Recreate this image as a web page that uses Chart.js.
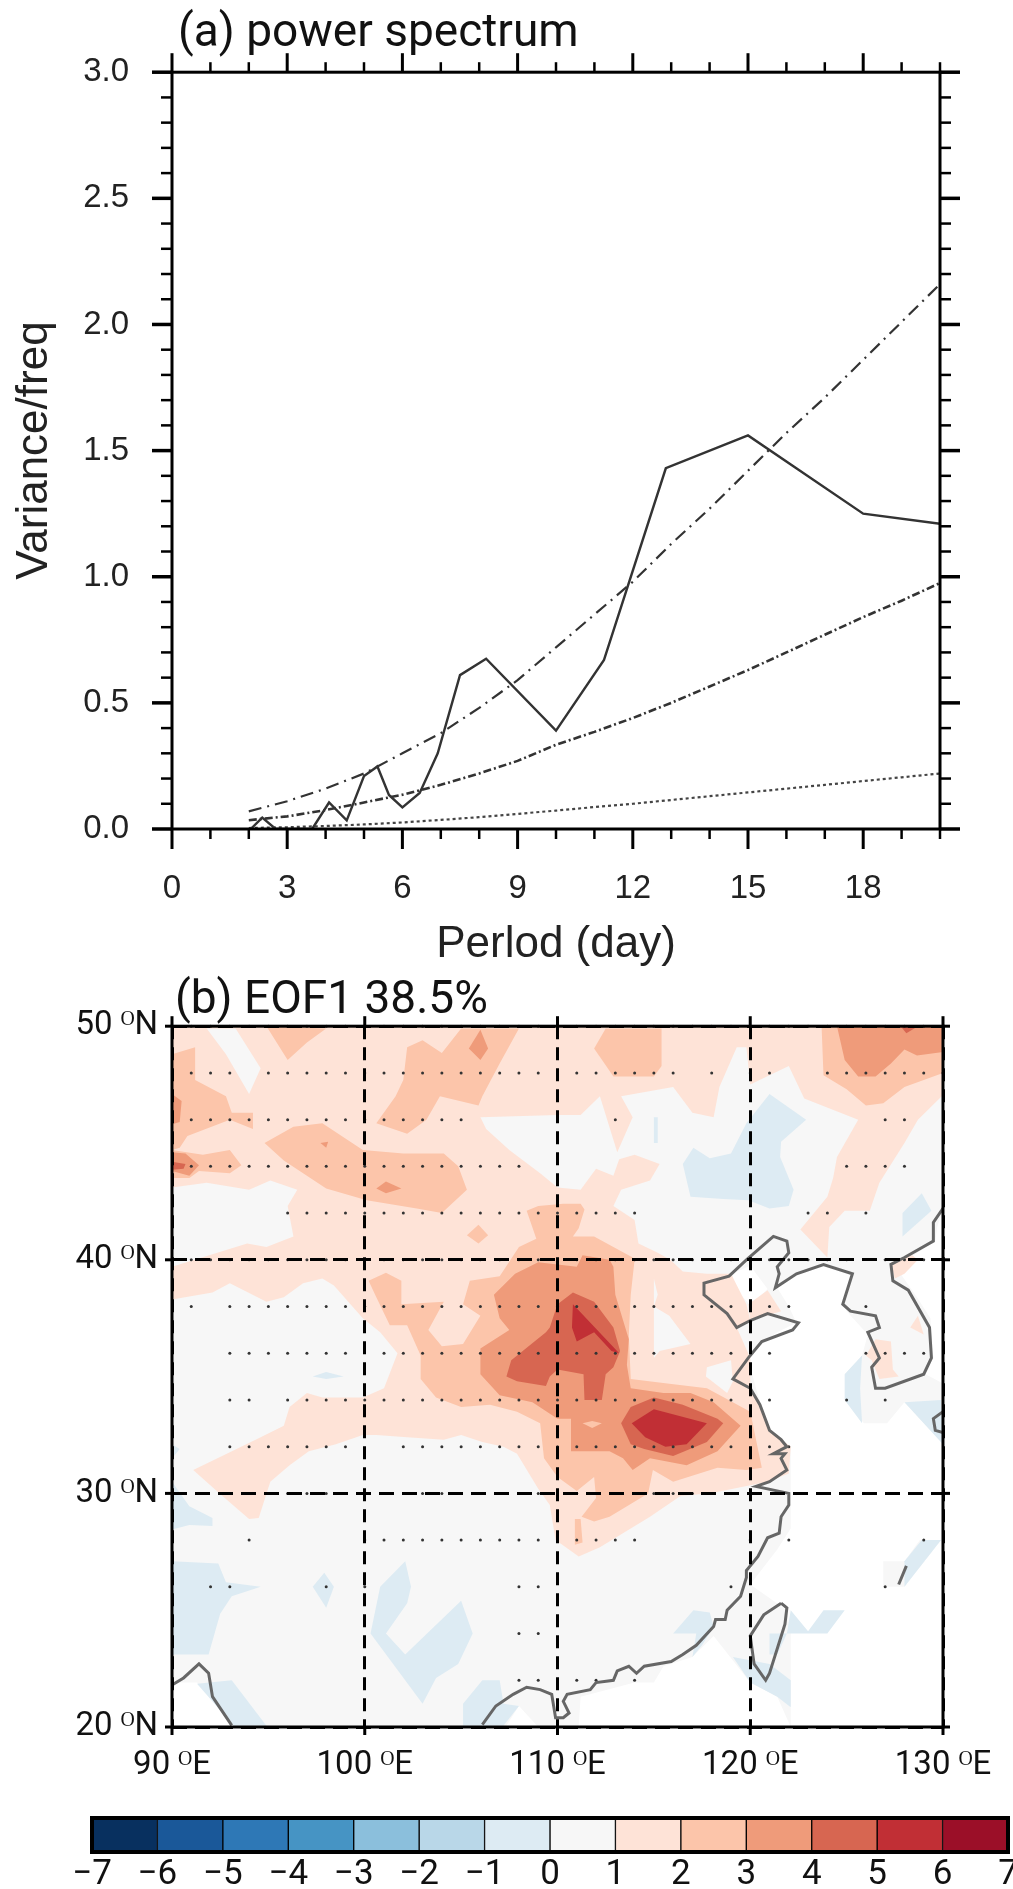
<!DOCTYPE html>
<html><head><meta charset="utf-8">
<script src="https://cdn.jsdelivr.net/npm/chart.js@4/dist/chart.umd.js"></script>
<style>
html,body{margin:0;padding:0;background:#fff;width:1013px;height:1889px;overflow:hidden}
canvas{position:absolute;left:0;display:block;filter:blur(0.5px)}
#a{top:0}#b{top:960px}#c{top:1790px}
</style></head><body>
<canvas id="a" width="1013" height="980"></canvas>
<canvas id="b" width="1013" height="830"></canvas>
<canvas id="c" width="1013" height="99"></canvas>
<script>
// ---------- panel (a) ----------
const periodDays   = [2.05,2.35,2.7,3.65,4.09,4.55,5.0,5.35,5.65,6.0,6.45,6.92,7.5,8.18,10,11.25,12.86,15,18,20];
const spectrum     = [0,.045,0,0,.105,.034,.21,.248,.135,.086,.143,.30,.61,.675,.39,.67,1.43,1.56,1.25,1.21];
const noiseDays    = [2,3,4,5,6,7,8,9,10,11,12,13,14,15,16,17,18,19,20];
const noiseUpper   = [.07,.11,.16,.22,.30,.38,.48,.59,.72,.85,.98,1.13,1.27,1.42,1.57,1.71,1.86,2.01,2.16];
const noiseMiddle  = [.035,.05,.075,.105,.136,.175,.22,.27,.334,.385,.44,.50,.565,.63,.70,.77,.84,.905,.975];
const noiseLower   = [.004,.007,.012,.018,.026,.036,.047,.06,.073,.087,.10,.115,.13,.145,.16,.175,.19,.205,.22];
// ---------- panel (b) : contour regions, lon/lat pairs ----------
const levels = [-7,-6,-5,-4,-3,-2,-1,0,1,2,3,4,5,6,7];
const levelColors = ['#08305f','#1a5899','#2e78b6','#4694c4','#8bbfdc','#b9d7e8','#ddebf3','#f7f7f7','#fee3d7','#fcc5aa','#ef9b7a','#d76651','#c12f35','#9b0f28'];
const dataRegion = [[90,50,130,50,130,42.2,129.7,41.4,129.6,40.8,128.2,40.05,127.8,39.4,128.65,38.4,129.35,37.5,129.5,35.8,129.1,35.1,130,34.7,130,32.1,128,33.9,127.1,33,125.9,33,124.9,34,124.9,35.1,125.8,35.9,126.1,36.8,125,37.8,124.8,38.1,125.3,39.4,124,39.8,122.4,39.4,121.4,38.8,122,38,122.4,37.3,121.4,36.9,120.7,36.5,120,35.8,120.1,35.1,120.4,34.2,121,32.7,122.1,32,122.1,28.5,121.4,27.6,120,26.1,121.9,25,122.1,24,122.1,20,121.4,21.3,120,21.9,118.1,23.9,117,23,115.5,22.6,115,21.9,114,21.9,111.2,21.3,111.1,20,93.2,20,91.3,21.9,90,21.9],
 [126.9,26,128,26,129.9,28,128.8,28,128,27.1,126.9,27.1]];
const noData = [[119.05,39.4,120,39.75,120.9,38.75,120,38.05,119.3,38.7],[108,20.9,107.3,20,109,20]];
const bandM1to0 = [
 [115,46.1,115.2,46.1,115.2,45,115,45],
 [121,47.1,122.9,46,121.6,45.05,121.55,44.4,122.25,43,122,42.3,121,42.2,119.9,42.55,118.6,42.6,116.9,42.7,116.5,44.1,117.05,44.8,117.9,44.35,119,44.55,119.8,45.85],
 [128.9,42.85,129.4,42.1,127.9,41,127.9,42],
 [97.3,35,98,35.2,98.9,35,98,34.9],
 [90,32.1,90.4,31.9,90.1,31.6],
 [90,30.5,90.9,29.45,92.1,28.95,92.1,28.6,90.9,28.65,90,28.45],
 [90,27.1,92.4,27,92.8,26.2,94.6,26,93.1,25.6,92.5,24.85,91.9,23.1,90,23.1],
 [97.9,26.6,98.4,26,98,25.1,97.3,26],
 [102.1,27.1,102.4,26,102.2,25.3,101.1,24,102.1,23.1,105,25.4,105.6,24,104.85,22.7,103.7,22.1,103,21,100.3,24,100.8,26],
 [91.3,21.85,93.1,22,94.9,20.05,93.2,20.05],
 [106.1,22,107,22,107.2,21,108,20.9,107.2,20.05,105.1,20.05,105.1,21],
 [117.05,25,117.9,24.9,118.1,24.3,117.5,23.5,117,23,117.2,24,116,24],
 [122.1,25,123,24.1,123.8,25,124.9,25,124,24,121.9,24],
 [119.1,23,121,22.7,122.1,22,122.1,20.85,121.4,21.3,120,21.9],
 [121,24,121.9,24,121.4,23.1,121,23.1],
 [125.8,35.9,125.7,34.5,125.8,33,124.9,34,124.9,35.1],
 [128,33.9,129.9,34,130,32.1],
 [128,27.1,128.9,28,129.9,28,128,26]
];
const band1to2 = [
 [90,50,130,50,130,47.05,128.7,46,128,45,126.7,43.3,126.2,42.1,124.9,42.1,124.1,41.4,124,40.1,122.6,41.3,124,42.7,124.3,43.5,124.5,44.4,125.6,46,122.8,46.9,122,48.3,120,47.5,119.8,49.1,119.3,49.1,118.4,47.4,118.1,46.1,117,46.3,116,47.4,113.3,47,113.9,46.1,113.1,44.6,112.2,47,111.2,46.2,110,46.2,106,46.1,106.3,45.6,107.5,44.7,109.1,43.7,110,43.1,111.2,43,112,43.9,112.9,43.6,113.2,44.3,114,44.5,115.3,44.1,114.8,43.4,113.3,43,112.9,42.3,114,41.7,114.2,40.7,115.2,40.3,115.85,40,116.5,39.5,117.75,39.4,119,39.4,119.8,38.1,120,37.4,119.3,37.1,120,35.8,120,34.5,120.5,33.8,121,32.7,122.1,32,122,30.85,120.9,30.5,117.9,30,116.4,29.9,114.8,29,112.2,27.7,111.1,27.3,109.9,28,109.6,29.5,109,30.2,107.9,31.7,107.2,32,106.1,32.2,105,32.5,104.1,32.3,102.2,32.4,100.6,32.5,99.9,32.5,98.5,32.1,97.1,31.8,96.1,31.2,95.1,30.5,94.5,28.95,94,28.9,92.6,29.9,91.1,31,92.6,31.6,94.6,32.4,95.8,32.9,96.1,33.7,97,34.3,97.8,34.1,99.9,34.1,101,34.5,101.7,36,100.8,36.9,99.9,37.5,98.4,38.9,97.8,39.2,96.8,39,95.8,38.4,94.9,38.2,93,39,92.1,38.6,90,38.3,90,39.7,93.9,40.7,94.9,40.55,96.3,41,96,42.3,96.5,43,95.1,43.4,94,43,91.8,43.3,90,43.1],
 [119.9,38.1,120.9,38.7,121.6,37.8,120,37.4],
 [127.3,39.9,127.5,39.2,128,39.4,128.7,40,128.4,40.2],
 [128.3,37.1,128.7,37.6,129,36.8],
 [126.5,36.6,127.3,36.5,127.4,35.3,127.7,35,126.7,34.9,126.3,35.7,126,35.9]
];
const band0to1Holes = [
 [91.8,49.9,93.3,49.9,94.6,48.2,94,47.1,92.8,48.8],
 [115,39.2,115.2,38.5,115,38,115.8,37.6,116.9,36.4,115.3,36.1,115,35.8],
 [117.75,35.4,119,35.7,119.1,34.8,118.8,34.3,117.7,35]
];
const band2to3 = [
 [90,48.8,91.2,49.1,91.2,47.7,92.8,47,93.1,46.3,94.2,46.3,94.2,45.6,93,46,90.8,45.3,90.4,44.8,90,44.7],
 [90,44.7,91.6,44.5,93,44.7,93.6,44.05,93,43.7,91.4,43.8,90.9,43.5,90,43.5],
 [94.9,50,98,49.9,97,49.3,96,48.55],
 [94.8,45,96.3,45.7,97.8,45.85,99.9,44.7,102,44.55,104.1,44.55,104.85,44,105.3,43,104,42,102.7,42.2,100.1,42.55,98,43.05,95.8,44.25],
 [102.2,49.1,103,49.4,104,48.85,105,49.9,108,49.9,107,48.4,106.1,47,105.9,46.6,103.9,47,103.2,46,102.2,45.4,100.6,45.85,101.6,47,102,47.7],
 [112.5,49.9,115.4,49.9,115.4,48.3,115,47.85,112.9,47.85,111.9,49.05],
 [123.7,50,130,50,130,48,128,47.4,126.9,46.7,126,46.6,125,47.3,123.8,47.9],
 [108,40.55,108.9,40.9,108.4,42.1,109,42.3,110.3,42.4,111.2,42.4,111.4,42.15,111.1,41.35,110.8,41,111.9,41,113.9,40.1,114,40,113.8,38.5,113.7,36.8,113.8,34.9,115.7,34.7,117.75,34.5,119,33.95,120,33.5,120.6,31.1,119.8,31,118.3,31.1,116,30.5,114.95,31,114.7,30,112.7,29,111.9,28.8,111.25,29,112,29.8,111.9,30.7,111,30.1,110,30.7,109.3,31.5,109.1,33,107.9,33.5,106.5,33.8,105,33.7,103.7,34.1,102.9,34.9,102.9,35.9,102.2,37.2,101.3,37.2,100.6,38.4,100.2,39.1,101.1,39.45,101.9,39.1,101.9,38.1,104.1,38.2,103.3,37,104,36.3,105.1,36.4,106,37.6,105.1,38.1,105.45,39.1,107,39.3],
 [105.9,41.5,106.4,41.05,105.9,40.7,105.3,41.05],
 [110.9,28.9,111.2,28.9,111.3,27.9,110.9,27.8]
];
const band3to4 = [
 [90,47.1,90.5,46.8,90.4,45.9,90,45.8],
 [90,44.6,90.7,44.55,91.4,44.05,90.9,43.6,90,43.8],
 [97.7,45,98.1,45.05,98,44.8],
 [100.6,43.05,101.1,43.35,101.9,43.05,101.1,42.85],
 [106,49.85,106.4,49.05,106,48.55,105.4,49.05],
 [124.5,50,130,50,130,48.9,128.65,48.75,128,49,127.3,48.4,126.5,47.85,125.6,47.85,124.9,48.55],
 [107.8,39.4,109,39.9,110,39.8,111,39.7,111.3,40.2,112.7,40,112.9,39.7,113,38.5,113.7,36.6,113.6,35.5,113.8,34.5,115.5,34.3,116.9,34.3,118.1,33.9,119.5,32.9,118.3,31.8,116.7,31.2,114.8,31.5,113.9,31,113.4,31.5,112.7,31.8,110.7,31.8,110.7,33.2,110,33.2,108.7,33.9,107,34.2,106,35.1,106,36.2,107.5,37,107,37.5,106.7,38.5]
];
const band2to3Islets = [[111.3,33,111.8,33.1,112.3,33,111.8,32.8]];
const band4to5 = [
 [90,44.2,90.7,44.1,90.6,43.9,90,43.85],
 [127.8,50,128.7,50,128.1,49.7],
 [107.35,35,107.6,35.7,109.4,36.9,109.6,37.1,110,38.1,110.8,38.6,111.9,38.2,112.9,37.1,113.25,36.1,112.9,35.4,112.5,35.1,112.3,34,111.4,34,111.35,35.1,110,35.3,109.6,35,109.4,34.6,107.9,34.8],
 [113.3,33,113.8,33.7,115,34.1,116.5,33.8,118.3,33.2,118.6,33,117.75,32.2,116,31.6,114.5,31.9,113.8,32.1]
];
const band5to6 = [
 [110.8,38.1,112,37.05,113.2,36,112.8,36.1,111.9,36.9,111,36.5,110.75,37.1],
 [113.85,33,115,33.6,117.75,33,116.7,32.1,115.6,32,114.55,32.4]
];
const coastlines = [
 [90,21.8,90.6,22.1,91.4,22.7,91.9,22.3,92.1,21.3,93.1,20.07],
 [106.1,20.1,106.8,20.9,107.7,21.4,108.4,21.7,109.1,21.6,109.7,21.4,109.9,20.4,110.3,20.4,110.6,20.6,110.3,21.1,110.5,21.4,111.7,21.6,112,21.9,112.9,22,113.1,22.4,113.7,22.6,114.1,22.3,114.5,22.6,115.9,22.8,116.5,23.1,117.2,23.5,118.1,24.3,118.2,24.6,118.7,24.6,118.8,25,119.5,25.6,119.8,26.4,119.8,26.7,120.4,27.3,120.9,28.1,121.5,28.3,121.6,29,122,29.5,122,30,120.3,30.3,121,30.5,121.9,31,121.6,31.5,121.8,31.7,121.2,31.7,121.9,32,121.6,32.3,121,32.7,120.5,33.8,120,34.5,119.1,34.9,119.9,35.8,120.6,36.5,122.2,37,122.5,37.3,120.9,37.7,120,37.4,119.3,37.1,118.8,37.7,117.6,38.5,117.6,39,118.9,39.3,119.8,40,120.5,40.5,121.2,41,121.9,40.8,122,40.3,121.4,39.7,121.5,39.4,121.4,39.1,121.3,38.8,122.4,39.4,123.8,39.8,125.3,39.4,124.8,38.1,125.2,37.8,126.5,37.6,126.7,37.1,126.1,36.9,126.7,35.8,126.3,35.4,126.5,34.5,127,34.5,129,35.1,129.4,35.8,129.3,37.1,128.2,38.7,127.4,39.1,127.3,39.8,128,40.1,129.5,40.8,129.5,41.6,130,42.2],
 [130,33.5,129.5,33.2,129.6,32.7,130,32.6],
 [127.7,26.1,128.1,26.9],
 [121.6,25.3,121.9,25.1,121.8,24.4,121,22.3,120.8,22,120.2,22.7,120,23.9,120.7,24.8,121.6,25.3]
];
// significance stipple: longitudes per latitude row
const stippleLats = [50,48,46,44,42,40,38,36,34,32,30,28,26,24,22];
const stippleLons = [
 [91,92,93,94,95,96,97,98,99,100,101,102,103,104,105,106,107,108,109,111,112,113,114,115,116,117,118,119,121,122,123,124,125,126,127,128,129,130],
 [91,92,93,95,96,97,98,99,100,101,102,103,104,105,106,107,108,109,110,111,112,113,114,115,116,118,120,121,124,125,126,127,128,129,130],
 [91,92,93,94,95,96,97,98,99,100,101,102,103,104,105,113,127,128],
 [91,92,93,94,95,96,97,98,99,100,101,102,103,104,105,106,107,108,125,126,127,128],
 [96,97,98,99,100,101,102,103,104,105,106,107,108,109,110,111,112,113,114,123,124,126],
 [91,92,93,94,95,96,97,98,99,100,101,102,103,104,105,106,107,108,109,111,112,113,114,115,116,117,118,119,121,122,123,124,125,127,128,129],
 [91,93,94,95,96,97,98,99,100,101,102,103,104,105,106,107,108,109,110,111,112,113,114,115,116,117,118,119,121,122,126],
 [93,94,95,96,97,98,99,101,102,103,104,105,106,107,108,109,110,111,112,113,114,115,116,117,118,119,121,126,127,128,129],
 [93,94,96,97,98,99,100,101,102,103,104,105,106,107,108,109,110,111,112,113,114,115,116,117,118,119,121,125,127],
 [93,94,95,96,97,98,99,102,103,104,105,106,107,108,109,110,111,112,113,114,115,116,117,118,119,121,122],
 [93,94,96,97,98,99,100,103,104,105,106,107,108,109,111,112,113,114,115,116,117,118],
 [94,100,101,102,103,104,105,106,107,108,109,110,111,112,113,114,120,122,129],
 [92,93,98,100,108,109,119,127],
 [108,109],
 [108,109,111,112,114]
];
const latTicks = [50,40,30,20];
const lonTicks = [90,100,110,120,130];

// ---------- plugins ----------
const polygonFill = {id:'polygonFill',beforeDatasetDraw(chart,args){
  const ds=chart.data.datasets[args.index]; if(!ds.polygon) return;
  const a=chart.chartArea,ctx=chart.ctx,pts=args.meta.data;
  ctx.save();ctx.beginPath();ctx.rect(a.left,a.top,a.right-a.left,a.bottom-a.top);ctx.clip();
  ctx.beginPath();pts.forEach((p,i)=>i?ctx.lineTo(p.x,p.y):ctx.moveTo(p.x,p.y));ctx.closePath();
  ctx.fillStyle=ds.backgroundColor;ctx.fill();ctx.restore();
}};
const frameTicks = {id:'frameTicks',afterDraw(chart,_,o){
  const a=chart.chartArea,ctx=chart.ctx,X=chart.scales.x,Y=chart.scales.y;
  ctx.save();ctx.strokeStyle='#000';
  const seg=(x0,y0,x1,y1,w)=>{ctx.lineWidth=w;ctx.beginPath();ctx.moveTo(x0,y0);ctx.lineTo(x1,y1);ctx.stroke();};
  (o.xTicks||[]).forEach(t=>{const p=X.getPixelForValue(t.v);
    if(t.b) seg(p,a.bottom,p,a.bottom+t.b,t.w);
    if(t.t) seg(p,a.top,p,a.top-t.t,t.w);});
  (o.yTicks||[]).forEach(t=>{const p=Y.getPixelForValue(t.v);
    seg(a.left,p,a.left-t.l,p,t.w); seg(a.right,p,a.right+t.r,p,t.w);});
  ctx.lineWidth=o.frame;ctx.strokeRect(a.left,a.top,a.right-a.left,a.bottom-a.top);
  ctx.restore();
}};
const titleShift = {id:'titleShift',afterLayout(chart,_,o){ if(chart.titleBlock) chart.titleBlock.left=o.left; }};
Chart.register(polygonFill,frameTicks,titleShift);

const pairs = (xs,ys)=>xs.map((x,i)=>({x,y:ys[i]}));
const ptsOf = f=>{const r=[];for(let i=0;i<f.length;i+=2)r.push({x:f[i],y:f[i+1]});return r;};
const fixed = (prop,val)=>s=>{s[prop]=val;s.paddingLeft=0;s.paddingRight=0;s.paddingTop=0;s.paddingBottom=0;};
const line = (data,dash,w,color)=>({data,showLine:true,fill:false,borderColor:color,borderWidth:w,borderDash:dash,pointRadius:0,tension:0});

// ---------- chart (a) ----------
const tickFontA={family:'"Liberation Sans",Arial',size:33};
const xTicksA=[],yTicksA=[];
for(let v=0;v<=20;v++){const maj=v%3===0&&v<20;xTicksA.push({v,b:maj?20:10,t:maj?19:10,w:maj?3:2.5});}
for(let i=0;i<=30;i++){const maj=i%5===0;yTicksA.push({v:i/10,l:maj?20:11,r:maj?20:11,w:maj?3.5:2.5});}
new Chart(document.getElementById('a'),{type:'scatter',data:{datasets:[
  line(pairs(noiseDays,noiseLower),[3,3],2.2,'#444'),
  line(pairs(noiseDays,noiseMiddle),[8,3,2,3],2.6,'#333'),
  line(pairs(noiseDays,noiseUpper),[13,6,2,6],2.2,'#333'),
  line(pairs(periodDays,spectrum),[],2.4,'#333')
]},options:{responsive:false,animation:false,events:[],
  layout:{padding:{right:73}},
  plugins:{legend:{display:false},tooltip:{enabled:false},
    title:{display:true,text:'(a) power spectrum',fullSize:false,align:'start',color:'#111',
      font:{family:'Roboto',size:46,weight:'normal'},padding:{top:7,bottom:10}},
    titleShift:{left:178},
    frameTicks:{xTicks:xTicksA,yTicks:yTicksA,frame:3}},
  scales:{
    x:{type:'linear',min:0,max:20,grid:{display:false},border:{display:false},afterFit:fixed('height',151),
       ticks:{stepSize:3,includeBounds:false,color:'#222',font:tickFontA,padding:32,maxRotation:0},
       title:{display:true,text:'Perlod (day)',color:'#222',font:{family:'"Liberation Sans",Arial',size:44},padding:{top:0,bottom:9}}},
    y:{type:'linear',min:0,max:3,grid:{display:false},border:{display:false},afterFit:fixed('width',172),
       ticks:{stepSize:.5,callback:v=>v.toFixed(1),color:'#222',font:tickFontA,padding:35},
       title:{display:true,text:'Variance/freq',color:'#222',font:{family:'"Liberation Sans",Arial',size:44},padding:{top:8,bottom:0}}}
  }}});

// ---------- chart (b) ----------
const polyDatasets=[];
const addBand=(list,color)=>list.forEach(f=>polyDatasets.push({polygon:true,data:ptsOf(f),backgroundColor:color,showLine:false,pointRadius:0}));
addBand(dataRegion,levelColors[7]);
addBand(noData,'#ffffff');
addBand(bandM1to0,levelColors[6]);
addBand(band1to2,levelColors[8]);
addBand(band0to1Holes,levelColors[7]);
addBand(band2to3,levelColors[9]);
addBand(band3to4,levelColors[10]);
addBand(band2to3Islets,levelColors[9]);
addBand(band4to5,levelColors[11]);
addBand(band5to6,levelColors[12]);
const stipple=[];stippleLats.forEach((lat,i)=>stippleLons[i].forEach(lon=>stipple.push({x:lon,y:lat})));
const dsB=[...polyDatasets,
  {data:stipple,showLine:false,pointRadius:1.5,pointBorderWidth:0,pointBackgroundColor:'#333',clip:8},
  ...coastlines.map(c=>line(ptsOf(c),[],3,'#666'))];
dsB.forEach((d,i)=>d.order=dsB.length-i);
const tickFontB={family:'Roboto',size:33};
new Chart(document.getElementById('b'),{type:'scatter',data:{datasets:dsB},options:{responsive:false,animation:false,events:[],
  layout:{padding:{right:70}},
  plugins:{legend:{display:false},tooltip:{enabled:false},
    title:{display:true,text:'(b) EOF1 38.5%',fullSize:false,align:'start',color:'#111',
      font:{family:'Roboto',size:46,weight:'normal'},padding:{top:14,bottom:-3}},
    titleShift:{left:175},
    frameTicks:{xTicks:lonTicks.map(v=>({v,b:8,t:10,w:3})),yTicks:latTicks.map(v=>({v,l:7,r:7,w:3})),frame:3}},
  scales:{
    x:{type:'linear',min:90,max:130,afterFit:fixed('height',63),
       grid:{color:'#000',lineWidth:3,z:1,drawTicks:false},border:{display:false,dash:[13,8]},
       afterBuildTicks:s=>{s.ticks=lonTicks.map(value=>({value}));},
       ticks:{color:'#111',font:tickFontB,padding:19,maxRotation:0,callback:v=>v+' ᴼE'}},
    y:{type:'linear',min:20,max:50,afterFit:fixed('width',172),
       grid:{color:'#000',lineWidth:3,z:1,drawTicks:false},border:{display:false,dash:[15,8]},
       afterBuildTicks:s=>{s.ticks=latTicks.map(value=>({value}));},
       ticks:{color:'#111',font:tickFontB,padding:14,callback:v=>v+' ᴼN'}}
  }}});

// ---------- colour bar ----------
const cbLabels=levels.map(v=>v<0?'−'+(-v):String(v));
new Chart(document.getElementById('c'),{type:'bar',data:{labels:['EOF1'],
  datasets:levelColors.map((c,i)=>({data:[[levels[i],levels[i+1]]],backgroundColor:c,borderColor:'#000',borderWidth:1,borderSkipped:false,barPercentage:1,categoryPercentage:1,grouped:false}))},
 options:{indexAxis:'y',responsive:false,animation:false,events:[],
  layout:{padding:{left:92,right:5,top:28}},
  plugins:{legend:{display:false},tooltip:{enabled:false},frameTicks:{frame:4}},
  scales:{
    x:{type:'linear',min:-7,max:7,afterFit:fixed('height',37),grid:{display:false},border:{display:false},
       ticks:{stepSize:1,autoSkip:false,maxRotation:0,color:'#111',font:{family:'Roboto',size:35},padding:-6,
              callback:v=>cbLabels[levels.indexOf(v)]}},
    y:{display:false}
  }}});
</script>
</body></html>
